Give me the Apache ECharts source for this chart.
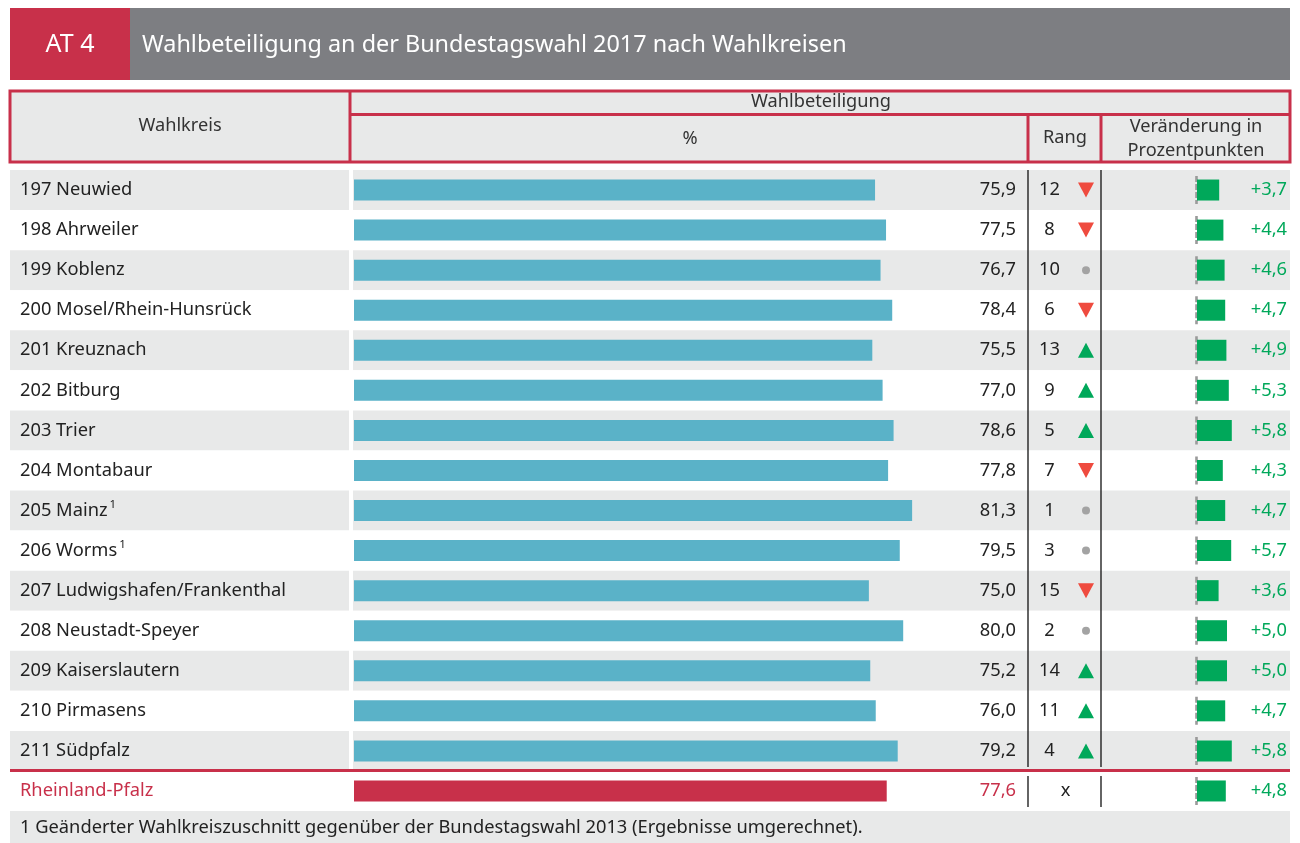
<!DOCTYPE html>
<html><head><meta charset="utf-8">
<script src="https://cdn.jsdelivr.net/npm/echarts@6/dist/echarts.min.js"></script>
<style>html,body{margin:0;padding:0;background:#fff}#c{width:1300px;height:843px}</style>
</head><body><div id="c"></div>
<script>
const districts = ['197 Neuwied','198 Ahrweiler','199 Koblenz','200 Mosel/Rhein-Hunsrück','201 Kreuznach','202 Bitburg','203 Trier','204 Montabaur','205 Mainz','206 Worms','207 Ludwigshafen/Frankenthal','208 Neustadt-Speyer','209 Kaiserslautern','210 Pirmasens','211 Südpfalz','Rheinland-Pfalz'];
const footnoted = ['205 Mainz','206 Worms'];
const turnout = [75.9,77.5,76.7,78.4,75.5,77.0,78.6,77.8,81.3,79.5,75.0,80.0,75.2,76.0,79.2,77.6];
const ranks = ['12','8','10','6','13','9','5','7','1','3','15','2','14','11','4','x'];
const trends = ['down','down','same','down','up','up','up','down','same','same','down','same','up','up','up','none'];
const changes = [3.7,4.4,4.6,4.7,4.9,5.3,5.8,4.3,4.7,5.7,3.6,5.0,5.0,4.7,5.8,4.8];

const FONT = 'Noto Sans';
const RED = '#c8304a', GREYBAR = '#7d7e82', LIGHT = '#e8e9e9', TEAL = '#5ab2c8', GREEN = '#00a85a';
const TXT = '#222';
const TOP = 170, H = 641, FS = 18.3, HFS = 18.2;
const last = districts.length - 1;
const fmt = v => v.toFixed(1).replace('.', ',');
const hfont = HFS + 'px "Noto Sans"';

const chart = echarts.init(document.getElementById('c'), null, {renderer: 'canvas'});

const grids = [
  {left: 10, width: 339},    // 0 names
  {left: 353, width: 937},   // 1 background
  {left: 354, width: 686.5}, // 2 turnout bars
  {left: 1016, width: 1},    // 3 turnout values
  {left: 1028, width: 73},   // 4 rank
  {left: 1197, width: 60},   // 5 change bars
  {left: 1287, width: 1}     // 6 change values
].map(g => Object.assign({top: TOP, height: H, containLabel: false}, g));

const hiddenX = i => ({type: 'value', gridIndex: i, show: false});
const baseY = i => ({type: 'category', gridIndex: i, data: districts, inverse: true,
  axisLine: {show: false}, axisTick: {show: false}, axisLabel: {show: false}, splitLine: {show: false}});

const yAxes = [
  Object.assign(baseY(0), {
    axisLabel: {show: true, interval: 0, align: 'left', margin: -10, fontFamily: FONT, fontSize: FS,
      color: (v, i) => i === last ? RED : TXT,
      formatter: (v) => footnoted.includes(v) ? '{n|' + v + '}{s|1}' : (v === districts[last] ? '{r|' + v + '}' : '{n|' + v + '}'),
      rich: {
        n: {fontFamily: FONT, fontSize: FS, color: TXT},
        r: {fontFamily: FONT, fontSize: FS, color: RED},
        s: {fontFamily: FONT, fontSize: 11.5, color: TXT, padding: [0, 0, 12, 2]}
      }},
    splitArea: {show: true, areaStyle: {color: [LIGHT, '#ffffff']}}
  }),
  Object.assign(baseY(1), {splitArea: {show: true, areaStyle: {color: [LIGHT, '#ffffff']}}}),
  Object.assign(baseY(2), {}),
  Object.assign(baseY(3), {axisLabel: {show: true, interval: 0, margin: 0, fontFamily: FONT, fontSize: FS,
    color: (v, i) => i === last ? RED : TXT,
    formatter: (v, i) => fmt(turnout[i])}}),
  Object.assign(baseY(4), {
    axisLabel: {show: true, interval: 0, margin: -21.5, align: 'center', fontFamily: FONT, fontSize: FS, color: TXT,
      formatter: (v, i) => ranks[i] === 'x' ? '{x|x}' : ranks[i],
      rich: {x: {fontFamily: FONT, fontSize: FS, color: TXT, padding: [0, 0, 0, 32]}}}}),
  Object.assign(baseY(5), {}),
  Object.assign(baseY(6), {axisLabel: {show: true, interval: 0, margin: 0, align: 'right', fontFamily: FONT, fontSize: FS, color: GREEN,
    formatter: (v, i) => '+' + fmt(changes[i])}})
];

const xAxes = [
  hiddenX(0), hiddenX(1),
  {type: 'value', gridIndex: 2, min: 0, max: 100, show: false},
  hiddenX(3),
  {type: 'category', gridIndex: 4, data: ['Rang'], show: false},
  {type: 'value', gridIndex: 5, min: 0, max: 10, show: false},
  hiddenX(6)
];

const trendStyle = {
  down: {symbol: 'triangle', symbolRotate: 180, symbolSize: [16, 15], color: '#ef4b3f'},
  up: {symbol: 'triangle', symbolRotate: 0, symbolSize: [16, 15], color: GREEN},
  same: {symbol: 'circle', symbolRotate: 0, symbolSize: 8, color: '#a3a3a3'}
};

const trendData = districts.map((d, i) => {
  const st = trendStyle[trends[i]];
  if (!st) return null;
  return {value: ['Rang', d], symbol: st.symbol, symbolRotate: st.symbolRotate, symbolSize: st.symbolSize,
    itemStyle: {color: st.color, opacity: 1}};
}).filter(Boolean);

const dashPath = 'path://M0,0H3V6H0Z M0,8H3V14H0Z M0,16H3V22H0Z M0,24H3V28H0Z';

const ruleLines = [];
[1028, 1101].forEach(x => {
  ruleLines.push({type: 'line', z: 50, shape: {x1: x, y1: 170, x2: x, y2: 767}, style: {stroke: '#111', lineWidth: 1.3}});
  ruleLines.push({type: 'line', z: 50, shape: {x1: x, y1: 776, x2: x, y2: 807}, style: {stroke: '#111', lineWidth: 1.3}});
});

const option = {
  animation: false,
  backgroundColor: '#ffffff',
  textStyle: {fontFamily: FONT},
  grid: grids,
  xAxis: xAxes,
  yAxis: yAxes,
  series: [
    {type: 'bar', xAxisIndex: 2, yAxisIndex: 2, barWidth: 21,
      data: turnout.map((v, i) => ({value: v, itemStyle: {color: i === last ? RED : TEAL}}))},
    {type: 'scatter', xAxisIndex: 4, yAxisIndex: 4, symbolOffset: [21.5, 0], data: trendData},
    {type: 'bar', xAxisIndex: 5, yAxisIndex: 5, barWidth: 21, itemStyle: {color: GREEN}, data: changes},
    {type: 'scatter', xAxisIndex: 5, yAxisIndex: 5, z: 1, symbol: dashPath, symbolSize: [2.6, 28], symbolKeepAspect: false,
      symbolOffset: [-0.5, 0], itemStyle: {color: '#9a9a9a', opacity: 1},
      data: districts.map(d => [0, d])}
  ],
  graphic: [
    {type: 'rect', shape: {x: 10, y: 8, width: 120, height: 72}, style: {fill: RED}},
    {type: 'rect', shape: {x: 130, y: 8, width: 1160, height: 72}, style: {fill: GREYBAR}},
    {type: 'text', x: 70, y: 45, style: {text: 'AT 4', fill: '#fff', font: '25px "Noto Sans"', align: 'center', verticalAlign: 'middle'}},
    {type: 'text', x: 142, y: 45, style: {text: 'Wahlbeteiligung an der Bundestagswahl 2017 nach Wahlkreisen', fill: '#fff', font: '23.4px "Noto Sans"', align: 'left', verticalAlign: 'middle'}},
    {type: 'rect', shape: {x: 10, y: 91, width: 1280, height: 71}, style: {fill: LIGHT, stroke: RED, lineWidth: 3}},
    {type: 'line', shape: {x1: 350, y1: 91, x2: 350, y2: 162}, style: {stroke: RED, lineWidth: 3}},
    {type: 'line', shape: {x1: 350, y1: 114.5, x2: 1290, y2: 114.5}, style: {stroke: RED, lineWidth: 3}},
    {type: 'line', shape: {x1: 1028, y1: 114.5, x2: 1028, y2: 162}, style: {stroke: RED, lineWidth: 3}},
    {type: 'line', shape: {x1: 1101, y1: 114.5, x2: 1101, y2: 162}, style: {stroke: RED, lineWidth: 3}},
    {type: 'text', x: 180, y: 126, style: {text: 'Wahlkreis', fill: '#333', font: hfont, align: 'center', verticalAlign: 'middle'}},
    {type: 'text', x: 821, y: 102, style: {text: 'Wahlbeteiligung', fill: '#333', font: hfont, align: 'center', verticalAlign: 'middle'}},
    {type: 'text', x: 690, y: 139, style: {text: '%', fill: '#333', font: hfont, align: 'center', verticalAlign: 'middle'}},
    {type: 'text', x: 1065, y: 138, style: {text: 'Rang', fill: '#333', font: hfont, align: 'center', verticalAlign: 'middle'}},
    {type: 'text', x: 1196, y: 127, style: {text: 'Veränderung in', fill: '#333', font: hfont, align: 'center', verticalAlign: 'middle'}},
    {type: 'text', x: 1196, y: 151, style: {text: 'Prozentpunkten', fill: '#333', font: hfont, align: 'center', verticalAlign: 'middle'}},
    {type: 'line', z: 100, shape: {x1: 10, y1: 770.5, x2: 1290, y2: 770.5}, style: {stroke: RED, lineWidth: 3}},
    {type: 'rect', z: 100, shape: {x: 10, y: 811, width: 1280, height: 32}, style: {fill: LIGHT}},
    {type: 'text', z: 101, x: 20, y: 828, style: {text: '1 Geänderter Wahlkreiszuschnitt gegenüber der Bundestagswahl 2013 (Ergebnisse umgerechnet).', fill: TXT, font: FS + 'px "Noto Sans"', align: 'left', verticalAlign: 'middle'}}
  ].concat(ruleLines)
};
chart.setOption(option);
</script>
</body></html>
